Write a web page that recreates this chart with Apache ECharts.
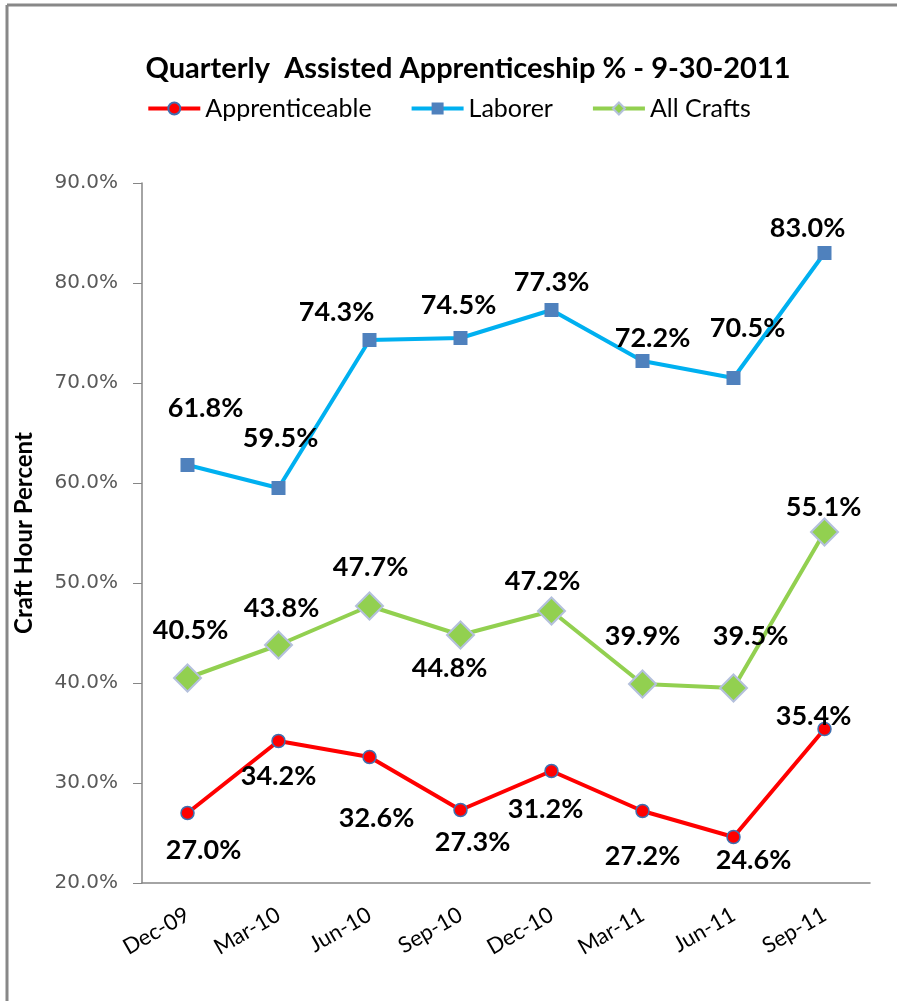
<!DOCTYPE html>
<html>
<head>
<meta charset="utf-8">
<title>Quarterly Assisted Apprenticeship</title>
<script src="https://cdn.jsdelivr.net/npm/echarts@6/dist/echarts.min.js"></script>
<style>
  html, body { margin: 0; padding: 0; background: #fff; }
  #chart { width: 897px; height: 1001px; }
</style>
</head>
<body>
<div id="chart"></div>
<script>
  // data
  const quarters = ['Dec-09', 'Mar-10', 'Jun-10', 'Sep-10', 'Dec-10', 'Mar-11', 'Jun-11', 'Sep-11']
  const apprenticeable = [27.0, 34.2, 32.6, 27.3, 31.2, 27.2, 24.6, 35.4]
  const laborer = [61.8, 59.5, 74.3, 74.5, 77.3, 72.2, 70.5, 83.0]
  const allCrafts = [40.5, 43.8, 47.7, 44.8, 47.2, 39.9, 39.5, 55.1]
  const yTicks = [20, 30, 40, 50, 60, 70, 80, 90]

  // where each value label sits relative to its point (px)
  const apprOffsets = [[16, 37], [0, 35], [7, 61], [12, 32], [-6, 38], [0, 45], [20, 23], [-11, -13]]
  const laborOffsets = [[18, -57], [2, -50], [-33, -28], [-2, -33], [0, -28], [10, -23], [14, -50], [-17, -25]]
  const craftOffsets = [[3, -48], [3, -37], [1, -39], [-11, 33], [-9, -30], [0, -48], [17, -52], [-1, -25]]

  const mainFont = 'Lato, "Open Sans", sans-serif'
  const labelFont = {
    fontFamily: mainFont,
    fontWeight: 'bold',
    fontSize: 27,
    color: '#000'
  }

  function withLabels(values, offsets) {
    return values.map((v, i) => ({
      value: v,
      label: { offset: offsets[i] }
    }))
  }

  let mycharts = echarts.init(document.getElementById('chart'))
  mycharts.setOption({
    animation: false,
    backgroundColor: '#fff',
    // chart frame (only top and left edges show in the picture)
    graphic: [
      { type: 'line', shape: { x1: 7, y1: 5, x2: 897, y2: 5 }, style: { stroke: '#888', lineWidth: 3 } },
      { type: 'line', shape: { x1: 7, y1: 5, x2: 7, y2: 1001 }, style: { stroke: '#888', lineWidth: 3 } }
    ],
    title: {
      text: 'Quarterly  Assisted Apprenticeship % - 9-30-2011',
      left: 463,
      textAlign: 'center',
      top: 49,
      textStyle: {
        fontFamily: mainFont,
        fontWeight: 'bold',
        fontSize: 29,
        color: '#000'
      }
    },
    legend: {
      top: 91,
      left: 'center',
      itemWidth: 52,
      itemHeight: 15,
      itemGap: 38,
      lineStyle: { width: 4 },
      textStyle: {
        fontFamily: mainFont,
        fontSize: 25,
        color: '#000'
      },
      data: ['Apprenticeable', 'Laborer', 'All Crafts']
    },
    grid: {
      left: 142,
      top: 183,
      width: 728,
      height: 700
    },
    xAxis: {
      type: 'category',
      data: quarters,
      boundaryGap: true,
      axisLine: { lineStyle: { color: '#868686', width: 1.5 } },
      axisTick: { show: false },
      axisLabel: {
        rotate: 30,
        margin: 30,
        fontFamily: mainFont,
        fontSize: 22,
        color: '#000'
      }
    },
    yAxis: {
      type: 'value',
      min: yTicks[0],
      max: yTicks[yTicks.length - 1],
      interval: 10,
      name: 'Craft Hour Percent',
      nameLocation: 'middle',
      nameGap: 106,
      nameTextStyle: {
        fontFamily: mainFont,
        fontWeight: 'bold',
        fontSize: 24,
        color: '#000'
      },
      splitLine: { show: false },
      axisLine: { show: true, lineStyle: { color: '#868686', width: 1.5 } },
      axisTick: { show: true, length: 9, lineStyle: { color: '#868686' } },
      axisLabel: {
        margin: 24,
        fontFamily: '"DejaVu Sans", sans-serif',
        fontSize: 20,
        color: '#595959',
        formatter: v => v.toFixed(1) + '%'
      }
    },
    series: [
      {
        name: 'Apprenticeable',
        type: 'line',
        data: withLabels(apprenticeable, apprOffsets),
        symbol: 'circle',
        symbolSize: 13,
        lineStyle: { color: '#FF0000', width: 4 },
        itemStyle: { color: '#FF0000', borderColor: '#3F6FB0', borderWidth: 1.5 },
        label: Object.assign({
          show: true,
          position: 'inside',
          formatter: p => p.value.toFixed(1) + '%'
        }, labelFont),
        z: 3
      },
      {
        name: 'Laborer',
        type: 'line',
        data: withLabels(laborer, laborOffsets),
        symbol: 'rect',
        symbolSize: 14,
        lineStyle: { color: '#00B0F0', width: 4 },
        itemStyle: { color: '#4F81BD', borderColor: '#4F81BD', borderWidth: 0 },
        label: Object.assign({
          show: true,
          position: 'inside',
          formatter: p => p.value.toFixed(1) + '%'
        }, labelFont),
        z: 3
      },
      {
        name: 'All Crafts',
        type: 'line',
        data: withLabels(allCrafts, craftOffsets),
        symbol: 'diamond',
        symbolSize: 27,
        lineStyle: { color: '#92D050', width: 4 },
        itemStyle: { color: '#92D050', borderColor: '#B4C0DC', borderWidth: 2 },
        label: Object.assign({
          show: true,
          position: 'inside',
          formatter: p => p.value.toFixed(1) + '%'
        }, labelFont),
        z: 3
      }
    ]
  })
</script>
</body>
</html>
